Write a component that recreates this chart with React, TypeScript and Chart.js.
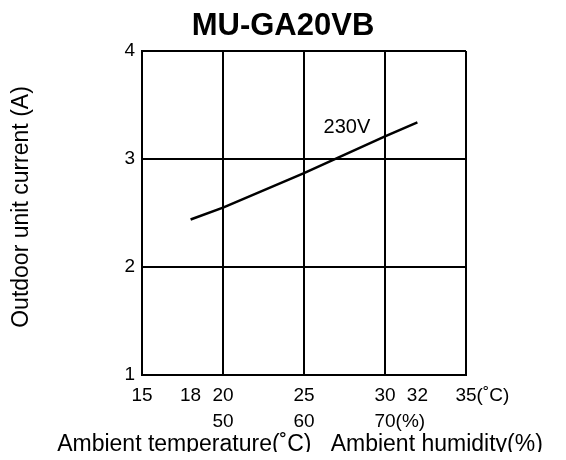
import React, { useEffect, useRef } from "react";
import { Chart, registerables } from "chart.js";

Chart.register(...registerables);

const chartTitle = "MU-GA20VB";
const temps = [18, 20, 25, 30, 32];
const currents = [2.44, 2.55, 2.87, 3.21, 3.34];
const seriesLabel = "230V";
const seriesLabelPos = { x: 27.65, y: 3.29 };
const tempTicks = [15, 18, 20, 25, 30, 32, 35];
const tempTickLabels = ["15", "18", "20", "25", "30", "32", "35(˚C)"];
const humidTicks = [20, 25, 30];
const humidTickLabels = ["50", "60", "70(%)"];
const yTitle = "Outdoor unit current (A)";
const xTitle = "Ambient temperature(˚C)   Ambient humidity(%)";

const FONT = "'Liberation Sans', Arial, Helvetica, sans-serif";

const labelPlugin = {
  id: "customLabels",
  afterDraw(chart: any) {
    const { ctx, scales, chartArea } = chart;
    const xs = scales.x;
    const ys = scales.y;
    ctx.save();
    ctx.fillStyle = "#000";
    ctx.font = `19px ${FONT}`;
    ctx.textBaseline = "middle";
    ctx.textAlign = "left";
    const drawRow = (vals: number[], labels: string[], y: number) => {
      vals.forEach((v, i) => {
        const lab = labels[i];
        const m = lab.match(/^\d+/);
        const num = m ? m[0] : lab;
        const w = ctx.measureText(num).width;
        ctx.fillText(lab, xs.getPixelForValue(v) - w / 2, y);
      });
    };
    drawRow(tempTicks, tempTickLabels, xs.top + 21);
    drawRow(humidTicks, humidTickLabels, xs.top + 46.5);

    // series label
    ctx.font = `20px ${FONT}`;
    ctx.textAlign = "center";
    ctx.fillText(
      seriesLabel,
      xs.getPixelForValue(seriesLabelPos.x),
      ys.getPixelForValue(seriesLabelPos.y)
    );

    // x axis title
    ctx.font = `23px ${FONT}`;
    ctx.textBaseline = "alphabetic";
    ctx.textAlign = "center";
    ctx.fillText(xTitle, 292, xs.top + 76);

    // y axis title
    ctx.save();
    ctx.translate(20, (chartArea.top + chartArea.bottom) / 2 - 6);
    ctx.rotate(-Math.PI / 2);
    ctx.textAlign = "center";
    ctx.textBaseline = "alphabetic";
    ctx.fillText(yTitle, 0, 0);
    ctx.restore();

    ctx.restore();
  },
};

export default function App() {
  const ref = useRef<HTMLCanvasElement>(null);
  useEffect(() => {
    if (!ref.current) return;
    const chart = new Chart(ref.current, {
      type: "line",
      data: {
        datasets: [
          {
            label: seriesLabel,
            data: temps.map((t, i) => ({ x: t, y: currents[i] })),
            borderColor: "#000",
            borderWidth: 2.5,
            pointRadius: 0,
            tension: 0,
            fill: false,
          },
        ],
      },
      options: {
        animation: false,
        responsive: false,
        maintainAspectRatio: false,
        events: [],
        layout: { padding: 0 },
        font: { family: FONT },
        plugins: {
          legend: { display: false },
          tooltip: { enabled: false },
          title: {
            display: true,
            text: chartTitle,
            color: "#000",
            font: { family: FONT, size: 31, weight: "bold", lineHeight: 1 },
            padding: { top: 2.5, bottom: 9.5 },
          },
        },
        scales: {
          x: {
            type: "linear",
            min: 15,
            max: 35,
            afterBuildTicks: (s: any) => {
              s.ticks = [15, 20, 25, 30, 35].map((v) => ({ value: v }));
            },
            afterFit: (s: any) => {
              s.height = 77;
            },
            grid: { color: "#000", lineWidth: 2, drawTicks: false },
            border: { color: "#000", width: 2 },
            ticks: { display: false },
          },
          y: {
            type: "linear",
            min: 1,
            max: 4,
            afterFit: (s: any) => {
              s.width = 134;
            },
            grid: { color: "#000", lineWidth: 2, drawTicks: false },
            border: { color: "#000", width: 2 },
            ticks: {
              stepSize: 1,
              color: "#000",
              padding: 7,
              font: { family: FONT, size: 19 },
            },
          },
          yR: {
            type: "linear",
            position: "right",
            display: true,
            afterFit: (s: any) => {
              s.width = 92;
            },
            grid: { display: false, drawTicks: false },
            border: { display: false },
            ticks: { display: false },
          },
        },
      },
      plugins: [labelPlugin],
    } as any);
    return () => chart.destroy();
  }, []);
  return (
    <div style={{ width: 550, height: 444 }}>
      <canvas ref={ref} width={550} height={444} style={{ display: "block" }} />
    </div>
  );
}
